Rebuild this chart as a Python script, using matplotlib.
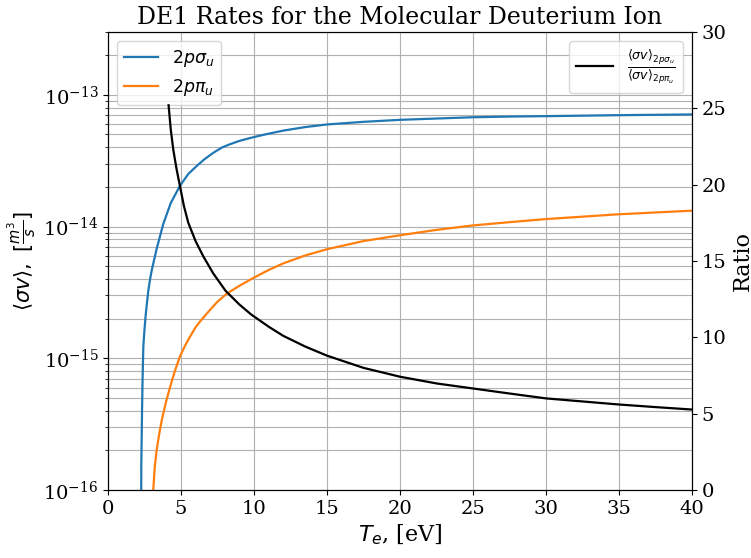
import matplotlib
matplotlib.use("Agg")
import matplotlib.pyplot as plt

plt.rcParams["font.family"] = ["DejaVu Serif", "DejaVu Sans"]
plt.rcParams["mathtext.fontset"] = "dejavusans"

# Electron temperature [eV] and DE1 rate coefficients [m^3/s]
te_sigma = [2.25, 2.28, 2.33, 2.37, 2.42, 2.50, 2.60, 2.76, 2.88, 3.00, 3.33,
            3.79, 4.30, 4.93, 5.50, 6.07, 6.60, 7.21, 7.80, 8.36, 9.00, 9.73,
            10.4, 11.0, 12.0, 13.5, 15.0, 17.5, 20.0, 22.5, 25.0, 27.5, 30.0,
            35.0, 40.0]
rate_sigma = [1e-17, 1.51e-16, 3.89e-16, 7.08e-16, 1.23e-15, 1.66e-15,
              2.24e-15, 3.24e-15, 3.98e-15, 4.68e-15, 6.76e-15, 1.05e-14,
              1.51e-14, 2.04e-14, 2.51e-14, 2.88e-14, 3.24e-14, 3.63e-14,
              3.98e-14, 4.22e-14, 4.47e-14, 4.70e-14, 4.90e-14, 5.07e-14,
              5.35e-14, 5.69e-14, 5.96e-14, 6.24e-14, 6.46e-14, 6.61e-14,
              6.76e-14, 6.84e-14, 6.89e-14, 7.01e-14, 7.10e-14]

te_pi = [3.08, 3.10, 3.20, 3.33, 3.50, 3.70, 4.00, 4.30, 4.60, 4.93, 5.30,
         5.62, 6.00, 6.30, 7.00, 7.50, 8.13, 9.00, 9.95, 11.0, 12.0, 13.5,
         15.0, 17.5, 20.0, 22.5, 25.0, 27.5, 30.0, 35.0, 40.0]
rate_pi = [1e-17, 1.0e-16, 1.48e-16, 2.0e-16, 2.63e-16, 3.47e-16, 4.79e-16,
           6.31e-16, 8.13e-16, 1.035e-15, 1.26e-15, 1.46e-15, 1.72e-15,
           1.90e-15, 2.34e-15, 2.69e-15, 3.09e-15, 3.55e-15, 4.07e-15,
           4.68e-15, 5.25e-15, 6.03e-15, 6.73e-15, 7.76e-15, 8.59e-15,
           9.44e-15, 1.02e-14, 1.08e-14, 1.14e-14, 1.24e-14, 1.32e-14]

# Ratio of the two channels
te_ratio = [4.15, 4.30, 4.47, 4.70, 4.93, 5.20, 5.50, 6.00, 6.53, 7.20, 8.05,
            9.00, 9.80, 11.0, 12.0, 13.5, 15.0, 17.5, 20.0, 22.5, 25.0, 27.5,
            30.0, 32.5, 35.0, 37.5, 40.0]
ratio = [25.2, 23.6, 22.3, 21.0, 19.9, 18.6, 17.5, 16.3, 15.3, 14.2, 13.05,
         12.15, 11.5, 10.7, 10.1, 9.4, 8.8, 8.0, 7.42, 6.98, 6.65, 6.32,
         6.0, 5.8, 5.6, 5.43, 5.27]

fig = plt.figure(figsize=(7.51, 5.58), dpi=100)
ax = fig.add_axes([108 / 751, 68 / 558, 584 / 751, 458 / 558])

ax.semilogy(te_sigma, rate_sigma, color="C0", lw=1.6, label=r"$2p\sigma_u$")
ax.semilogy(te_pi, rate_pi, color="C1", lw=1.6, label=r"$2p\pi_u$")
ax.set_xlim(0, 40)
ax.set_ylim(1e-16, 3e-13)
ax.grid(True, which="major", axis="x", color="#b0b0b0", lw=0.8)
ax.grid(True, which="both", axis="y", color="#b0b0b0", lw=0.8)
ax.set_xlabel(r"$T_e$, [eV]", fontsize=16)
ax.set_ylabel(r"$\langle\sigma v\rangle,\ [\frac{m^3}{s}]$", fontsize=15)
ax.tick_params(labelsize=14)
ax.legend(loc="upper left", fontsize=12.5)
ax.set_title("DE1 Rates for the Molecular Deuterium Ion", fontsize=17)

ax2 = ax.twinx()
ax2.plot(te_ratio, ratio, color="black", lw=1.6,
         label=r"$\frac{\langle\sigma v\rangle_{2p\sigma_u}}{\langle\sigma v\rangle_{2p\pi_u}}$")
ax2.set_ylim(0, 30)
ax2.set_ylabel("Ratio", fontsize=16)
ax2.tick_params(labelsize=14)
ax2.legend(loc="upper right", fontsize=13)

fig.savefig("out.png", dpi=100)
